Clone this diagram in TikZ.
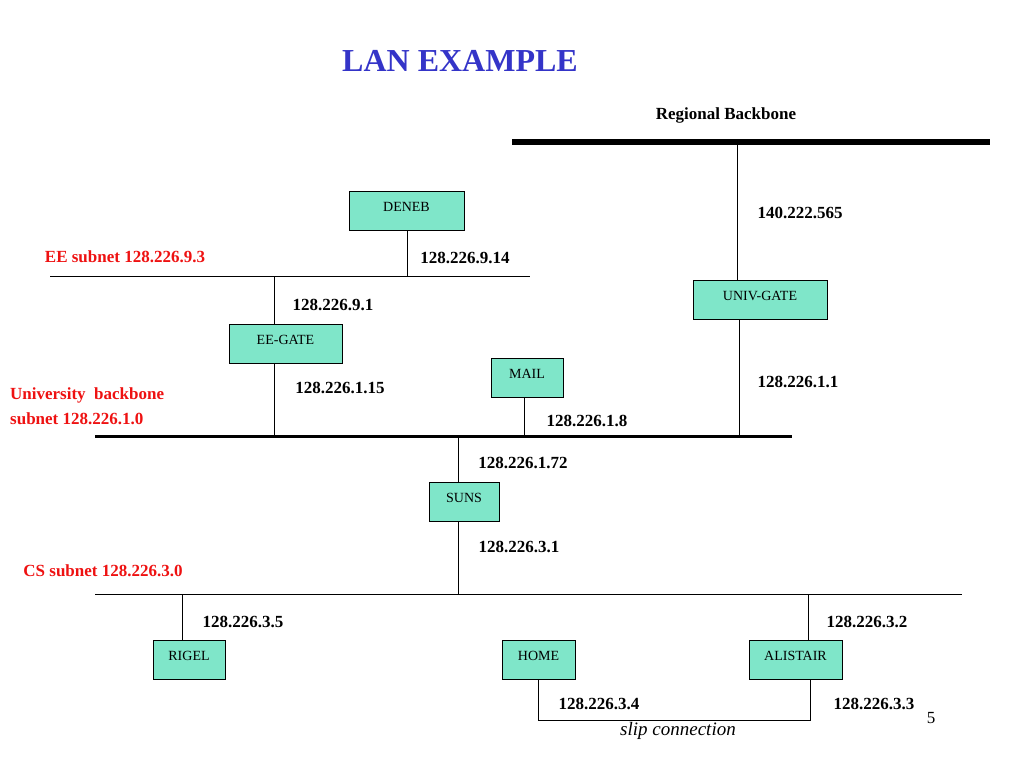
\documentclass[tikz,border=0pt]{standalone}
\usepackage{fontspec}
\setmainfont{Liberation Serif}
\begin{document}
\begin{tikzpicture}[x=1pt,y=-1pt,
 box/.style={draw,fill=boxc,minimum width=#1,minimum height=39pt,inner sep=0pt,font=\fontsize{14}{16}\selectfont,text depth=8pt},
 lbl/.style={font=\fontsize{17}{19}\selectfont\bfseries,inner sep=0pt},
 red/.style={lbl,text=redc},
 thin/.style={line width=0.9pt}]
\definecolor{boxc}{HTML}{7FE6C9}
\definecolor{redc}{HTML}{EE1111}
\definecolor{bluec}{HTML}{3434C8}
\useasboundingbox (0,0) rectangle (1024,768);
\node[font=\fontsize{32}{34}\selectfont\bfseries,text=bluec] (title) at (460,61) {LAN EXAMPLE};
\node[lbl] (rb) at (726,115) {Regional Backbone};
% backbone lines
\coordinate (r1) at (512,142); \coordinate (r2) at (990,142);
\draw[line width=6pt] (r1) -- (r2);
\coordinate (u1) at (95,436); \coordinate (u2) at (792,436);
\draw[line width=3pt] (u1) -- (u2);
\coordinate (e1) at (50,276); \coordinate (e2) at (530,276);
\draw[thin] (e1) -- (e2);
\coordinate (c1) at (95,594); \coordinate (c2) at (962,594);
\draw[thin] (c1) -- (c2);
% boxes
\node[box=115pt] (deneb) at (406.5,210.5) {DENEB};
\node[box=134pt] (univ) at (760,299.5) {UNIV-GATE};
\node[box=113pt] (eegate) at (285.5,343.5) {EE-GATE};
\node[box=72pt] (mail) at (527,377.5) {MAIL};
\node[box=70pt] (suns) at (464,501.5) {SUNS};
\node[box=72pt] (rigel) at (189,660) {RIGEL};
\node[box=73pt] (home) at (538.5,660) {HOME};
\node[box=93pt] (alis) at (795.5,660) {ALISTAIR};
% connectors
\draw[thin] (737,142) -- (univ.north -| 737,0);
\draw[thin] (univ.south -| 739,0) -- (739,436);
\draw[thin] (deneb.south -| 407,0) -- (407,276);
\draw[thin] (274,276) -- (eegate.north -| 274,0);
\draw[thin] (eegate.south -| 274,0) -- (274,436);
\draw[thin] (mail.south -| 524,0) -- (524,436);
\draw[thin] (458,436) -- (suns.north -| 458,0);
\draw[thin] (suns.south -| 458,0) -- (458,594);
\draw[thin] (182,594) -- (rigel.north -| 182,0);
\draw[thin] (808,594) -- (alis.north -| 808,0);
\draw[thin] (home.south) -- (538.5,720) -- (810,720) -- (alis.south -| 810,0);
% labels
\node[lbl] (l1) at (800,213) {140.222.565};
\node[lbl] (l2) at (465,258) {128.226.9.14};
\node[red] (l3) at (125,257) {EE subnet 128.226.9.3};
\node[lbl] (l4) at (333,305) {128.226.9.1};
\node[lbl] (l5) at (340,388) {128.226.1.15};
\node[lbl] (l6) at (587,421) {128.226.1.8};
\node[lbl] (l7) at (798,382) {128.226.1.1};
\node[red,anchor=west] (l8) at (10,395) {University\ \ backbone};
\node[red,anchor=west] (l9) at (10,419) {subnet 128.226.1.0};
\node[lbl] (l10) at (523,463) {128.226.1.72};
\node[lbl] (l11) at (519,547) {128.226.3.1};
\node[red] (l12) at (103,571) {CS subnet 128.226.3.0};
\node[lbl] (l13) at (243,622) {128.226.3.5};
\node[lbl] (l14) at (867,622) {128.226.3.2};
\node[lbl] (l15) at (599,704) {128.226.3.4};
\node[lbl] (l16) at (874,704) {128.226.3.3};
\node[font=\fontsize{19}{21}\selectfont\itshape,inner sep=0pt] (slip) at (678,731) {slip connection};
\node[font=\fontsize{17}{19}\selectfont,inner sep=0pt] (pg) at (931,718) {5};
\end{tikzpicture}
\end{document}
